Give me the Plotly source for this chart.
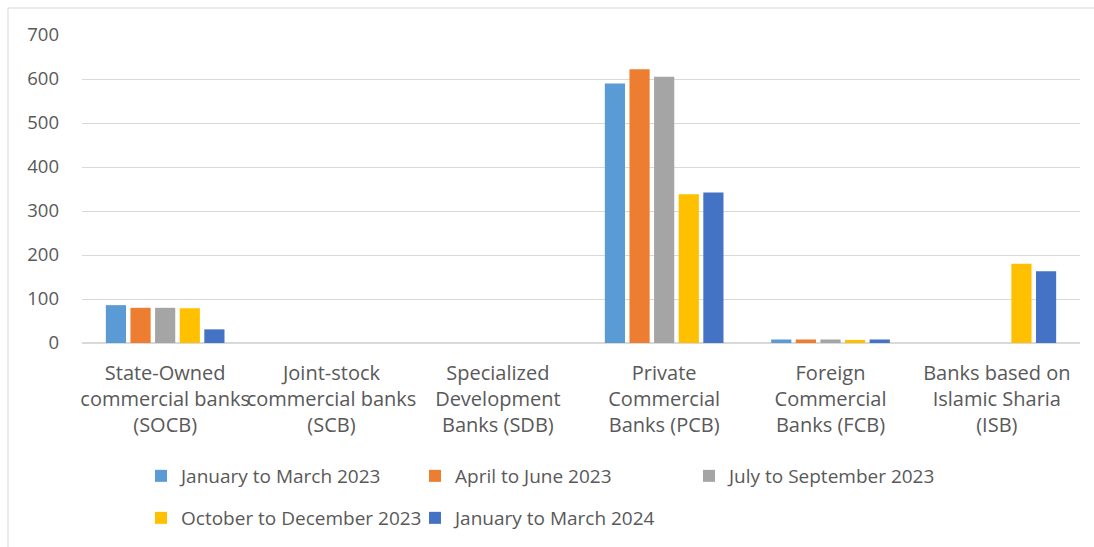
import plotly.graph_objects as go

categories = [
    "State-Owned<br>commercial banks<br>(SOCB)",
    "Joint-stock<br>commercial banks<br>(SCB)",
    "Specialized<br>Development<br>Banks (SDB)",
    "Private<br>Commercial<br>Banks (PCB)",
    "Foreign<br>Commercial<br>Banks (FCB)",
    "Banks based on<br>Islamic Sharia<br>(ISB)",
]
series_names = [
    "January to March 2023",
    "April to June 2023",
    "July to September 2023",
    "October to December 2023",
    "January to March 2024",
]
q1_2023 = [86, 0, 0, 590, 8, 0]
q2_2023 = [80, 0, 0, 622, 8, 0]
q3_2023 = [80, 0, 0, 605, 8, 0]
q4_2023 = [79, 0, 0, 338, 7, 180]
q1_2024 = [31, 0, 0, 342, 8, 163]
colors = ["#5B9BD5", "#ED7D31", "#A5A5A5", "#FFC000", "#4472C4"]
y_ticks = [0, 100, 200, 300, 400, 500, 600, 700]

W, H = 1094, 547
L, R, T, B = 82, 14, 35, 204
pw, ph = W - L - R, H - T - B

def px_x(x):
    return (x - L) / pw

def px_y(y):
    return (H - B - y) / ph

fig = go.Figure()
all_vals = [q1_2023, q2_2023, q3_2023, q4_2023, q1_2024]
for i, (name, vals, c) in enumerate(zip(series_names, all_vals, colors)):
    fig.add_trace(go.Bar(
        x=categories, y=vals, name=name,
        marker=dict(color=c, line=dict(width=0)),
        legend="legend" if i < 3 else "legend2",
    ))

font_family = "'Open Sans', Lato, 'Liberation Sans', sans-serif"
txt_color = "#595959"

legend_common = dict(
    orientation="h", xanchor="left", yanchor="middle",
    entrywidth=229, entrywidthmode="pixels", itemwidth=30,
    font=dict(size=19, color=txt_color, family=font_family),
    bgcolor="rgba(0,0,0,0)",
)

fig.update_layout(
    width=W, height=H,
    margin=dict(l=L, r=R, t=T, b=B, autoexpand=False),
    plot_bgcolor="white", paper_bgcolor="white",
    barmode="group", bargap=0.26, bargroupgap=0.18,
    font=dict(family=font_family, color=txt_color, size=18),
    xaxis=dict(
        showgrid=False, showline=False, ticks="",
        tickfont=dict(size=20, color=txt_color),
        tickangle=0, automargin=False,
        ticklabelstandoff=16,
    ),
    yaxis=dict(
        range=[0, 700], tickvals=y_ticks,
        showgrid=True, gridcolor="#D9D9D9", gridwidth=1,
        zeroline=True, zerolinecolor="#D9D9D9", zerolinewidth=2,
        showline=False, ticks="", automargin=False,
        tickfont=dict(size=18.5, color=txt_color),
        ticklabelstandoff=22,
    ),
    legend=dict(legend_common, x=px_x(141), y=px_y(476)),
    legend2=dict(legend_common, x=px_x(141), y=px_y(518)),
    showlegend=True,
)

# outer chart border (partially visible in the reference crop)
fig.add_shape(type="rect", xref="paper", yref="paper",
              x0=px_x(8), x1=px_x(1100), y0=px_y(560), y1=px_y(8),
              line=dict(color="#D9D9D9", width=1), fillcolor="rgba(0,0,0,0)", layer="below")

fig.write_html("out.html")
